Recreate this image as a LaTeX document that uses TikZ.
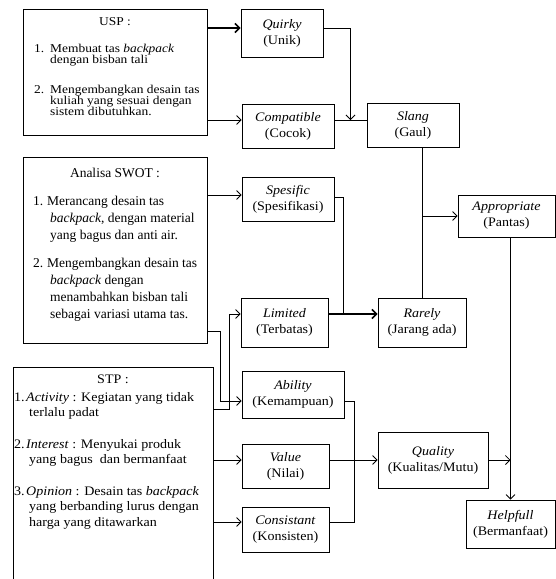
\documentclass[tikz,border=0pt]{standalone}
\usepackage{fontspec}
\setmainfont{Liberation Serif}
\newfontfamily\ufont[FakeStretch=1.12]{Liberation Serif}
\newfontfamily\wfont[FakeStretch=1.08]{Liberation Serif}
\usetikzlibrary{arrows.meta,calc}
\begin{document}
\begin{tikzpicture}[x=1pt,y=-1pt,
  box/.style={draw, line width=0.8pt, inner sep=0pt},
  rbox/.style={draw, line width=0.8pt, align=center, inner sep=1pt,
    font=\wfont\fontsize{13}{16}\selectfont},
  txt/.style={inner sep=0pt},
  conn/.style={line width=0.8pt},
  arr/.style={conn, -{Straight Barb[length=4.5pt,width=9pt]}},
  heavy/.style={line width=1.6pt}]
\useasboundingbox (0,0) rectangle (556,579);
\clip (0,0) rectangle (556,579);

% ---------- left boxes ----------
\node[box, anchor=north west, minimum width=184pt, minimum height=126pt] (usp) at (23,9) {};
\node[box, anchor=north west, minimum width=184pt, minimum height=186pt] (swot) at (23,157) {};
\node[box, anchor=north west, minimum width=200pt, minimum height=230pt] (stp) at (13,367) {};

\node[txt, anchor=base, font=\ufont\fontsize{12}{11}\selectfont] (usptitle) at (115,25) {USP :};
\node[txt, anchor=base west, font=\ufont\fontsize{12}{11}\selectfont] (usplist) at (34,52.7) {\vtop{\baselineskip=11pt
  \hbox{\makebox[16pt][l]{1.}Membuat tas \textit{backpack}}
  \hbox{\hspace{16pt}dengan bisban tali}
  \vskip18.5pt
  \hbox{\makebox[16pt][l]{2.}Mengembangkan desain tas}
  \hbox{\hspace{16pt}kuliah yang sesuai dengan}
  \hbox{\hspace{16pt}sistem dibutuhkan.}}};

\node[txt, anchor=base, font=\fontsize{13.5}{17}\selectfont] (swottitle) at (115,177) {Analisa SWOT :};
\node[txt, anchor=base west, font=\fontsize{13.5}{17}\selectfont] (swotlist) at (33,205.5) {\vtop{\baselineskip=17pt
  \hbox{\makebox[14pt][l]{1.}Merancang desain tas}
  \hbox{\hspace{17pt}\textit{backpack}, dengan material}
  \hbox{\hspace{17pt}yang bagus dan anti air.}
  \vskip11pt
  \hbox{\makebox[14pt][l]{2.}Mengembangkan desain tas}
  \hbox{\hspace{17pt}\textit{backpack} dengan}
  \hbox{\hspace{17pt}menambahkan bisban tali}
  \hbox{\hspace{17pt}sebagai variasi utama tas.}}};

\node[txt, anchor=base, font=\wfont\fontsize{13}{15.3}\selectfont] (stptitle) at (113,383) {STP :};
\node[txt, anchor=base west, font=\wfont\fontsize{13}{15.3}\selectfont] (stplist) at (14,401) {\vtop{\baselineskip=15.3pt
  \hbox{\makebox[12pt][l]{1.}\textit{Activity} : Kegiatan yang tidak}
  \hbox{\hspace{15pt}terlalu padat}
  \vskip16.7pt
  \hbox{\makebox[12pt][l]{2.}\textit{Interest} : Menyukai produk}
  \hbox{\hspace{15pt}yang bagus\ \ dan bermanfaat}
  \vskip16.7pt
  \hbox{\makebox[12pt][l]{3.}\textit{Opinion} : Desain tas \textit{backpack}}
  \hbox{\hspace{15pt}yang berbanding lurus dengan}
  \hbox{\hspace{15pt}harga yang ditawarkan}}};

% ---------- right boxes ----------
\node[rbox, minimum width=82pt, minimum height=48pt] (quirky) at (282,33) {\textit{Quirky}\\(Unik)};
\node[rbox, minimum width=92pt, minimum height=44pt] (compat) at (288,126) {\textit{Compatible}\\(Cocok)};
\node[rbox, minimum width=92pt, minimum height=44pt] (slang) at (413,125) {\textit{Slang}\\(Gaul)};
\node[rbox, minimum width=92pt, minimum height=44pt] (spesific) at (288,199) {\textit{Spesific}\\(Spesifikasi)};
\node[rbox, minimum width=87pt, minimum height=49pt] (limited) at (284.5,322.5) {\textit{Limited}\\(Terbatas)};
\node[rbox, minimum width=88pt, minimum height=49pt] (rarely) at (422,322.5) {\textit{Rarely}\\(Jarang ada)};
\node[rbox, minimum width=97pt, minimum height=42pt] (approp) at (506.5,216) {\textit{Appropriate}\\(Pantas)};
\node[rbox, minimum width=102pt, minimum height=47pt] (ability) at (293,394.5) {\textit{Ability}\\(Kemampuan)};
\node[rbox, minimum width=87pt, minimum height=44pt] (value) at (285.5,466) {\textit{Value}\\(Nilai)};
\node[rbox, minimum width=87pt, minimum height=45pt] (consist) at (285.5,529.5) {\textit{Consistant}\\(Konsisten)};
\node[rbox, minimum width=110pt, minimum height=56pt] (quality) at (433,460) {\textit{Quality}\\(Kualitas/Mutu)};
\node[rbox, minimum width=89pt, minimum height=48pt] (helpful) at (510.5,524) {\textit{Helpfull}\\(Bermanfaat)};

% ---------- connectors ----------
\coordinate (aq) at ([yshift=5pt]quirky.west);
\draw[arr, heavy] (aq -| usp.east) -- (aq);
\coordinate (ac) at ([yshift=6pt]compat.west);
\draw[arr] (ac -| usp.east) -- (ac);
\coordinate (cs) at ([yshift=6pt]compat.east);
\draw[conn] (cs) -- (cs -| slang.west);
\coordinate (j1) at ($(cs)!0.5!(cs -| slang.west)$);
\draw[arr] ([yshift=5pt]quirky.east) -| (j1);

\coordinate (as) at ([yshift=4pt]spesific.west);
\draw[arr] (as -| swot.east) -- (as);
\coordinate (lr) at ([yshift=8.5pt]limited.east);
\draw[arr, heavy] (lr) -- (lr -| rarely.west);
\coordinate (j2) at ([xshift=15pt]lr);
\draw[conn] ([yshift=2pt]spesific.east) -| (j2);

\draw[conn] (rarely.north |- slang.south) -- (rarely.north);
\coordinate (ja) at (rarely.north |- approp.west);
\draw[arr] (ja) -- (approp.west);
\coordinate (jh) at (helpful.north |- approp.south);
\draw[arr] (jh) -- (helpful.north);
\draw[arr] (quality.east) -- (quality.east -| helpful.north);
\draw[arr] (quality.west -| value.east) -- (quality.west);
\draw[arr] (quality.west -| stp.east) -- (quality.west -| value.west);

\coordinate (ce) at ([yshift=7.5pt]consist.east);
\coordinate (j3) at ([xshift=25pt]ce);
\draw[conn] ([yshift=-6.5pt]ability.east) -| (j3) -- (ce);
\draw[arr] (ce -| stp.east) -- (ce -| consist.west);

\draw[arr] ([yshift=12pt]swot.south east) -- ++(13,0) |- ([yshift=-6.5pt]ability.west);
\draw[arr] ([yshift=-42pt]stp.north east) -- ++(16,0) |- ([yshift=8.5pt]limited.west);
\end{tikzpicture}
\end{document}
